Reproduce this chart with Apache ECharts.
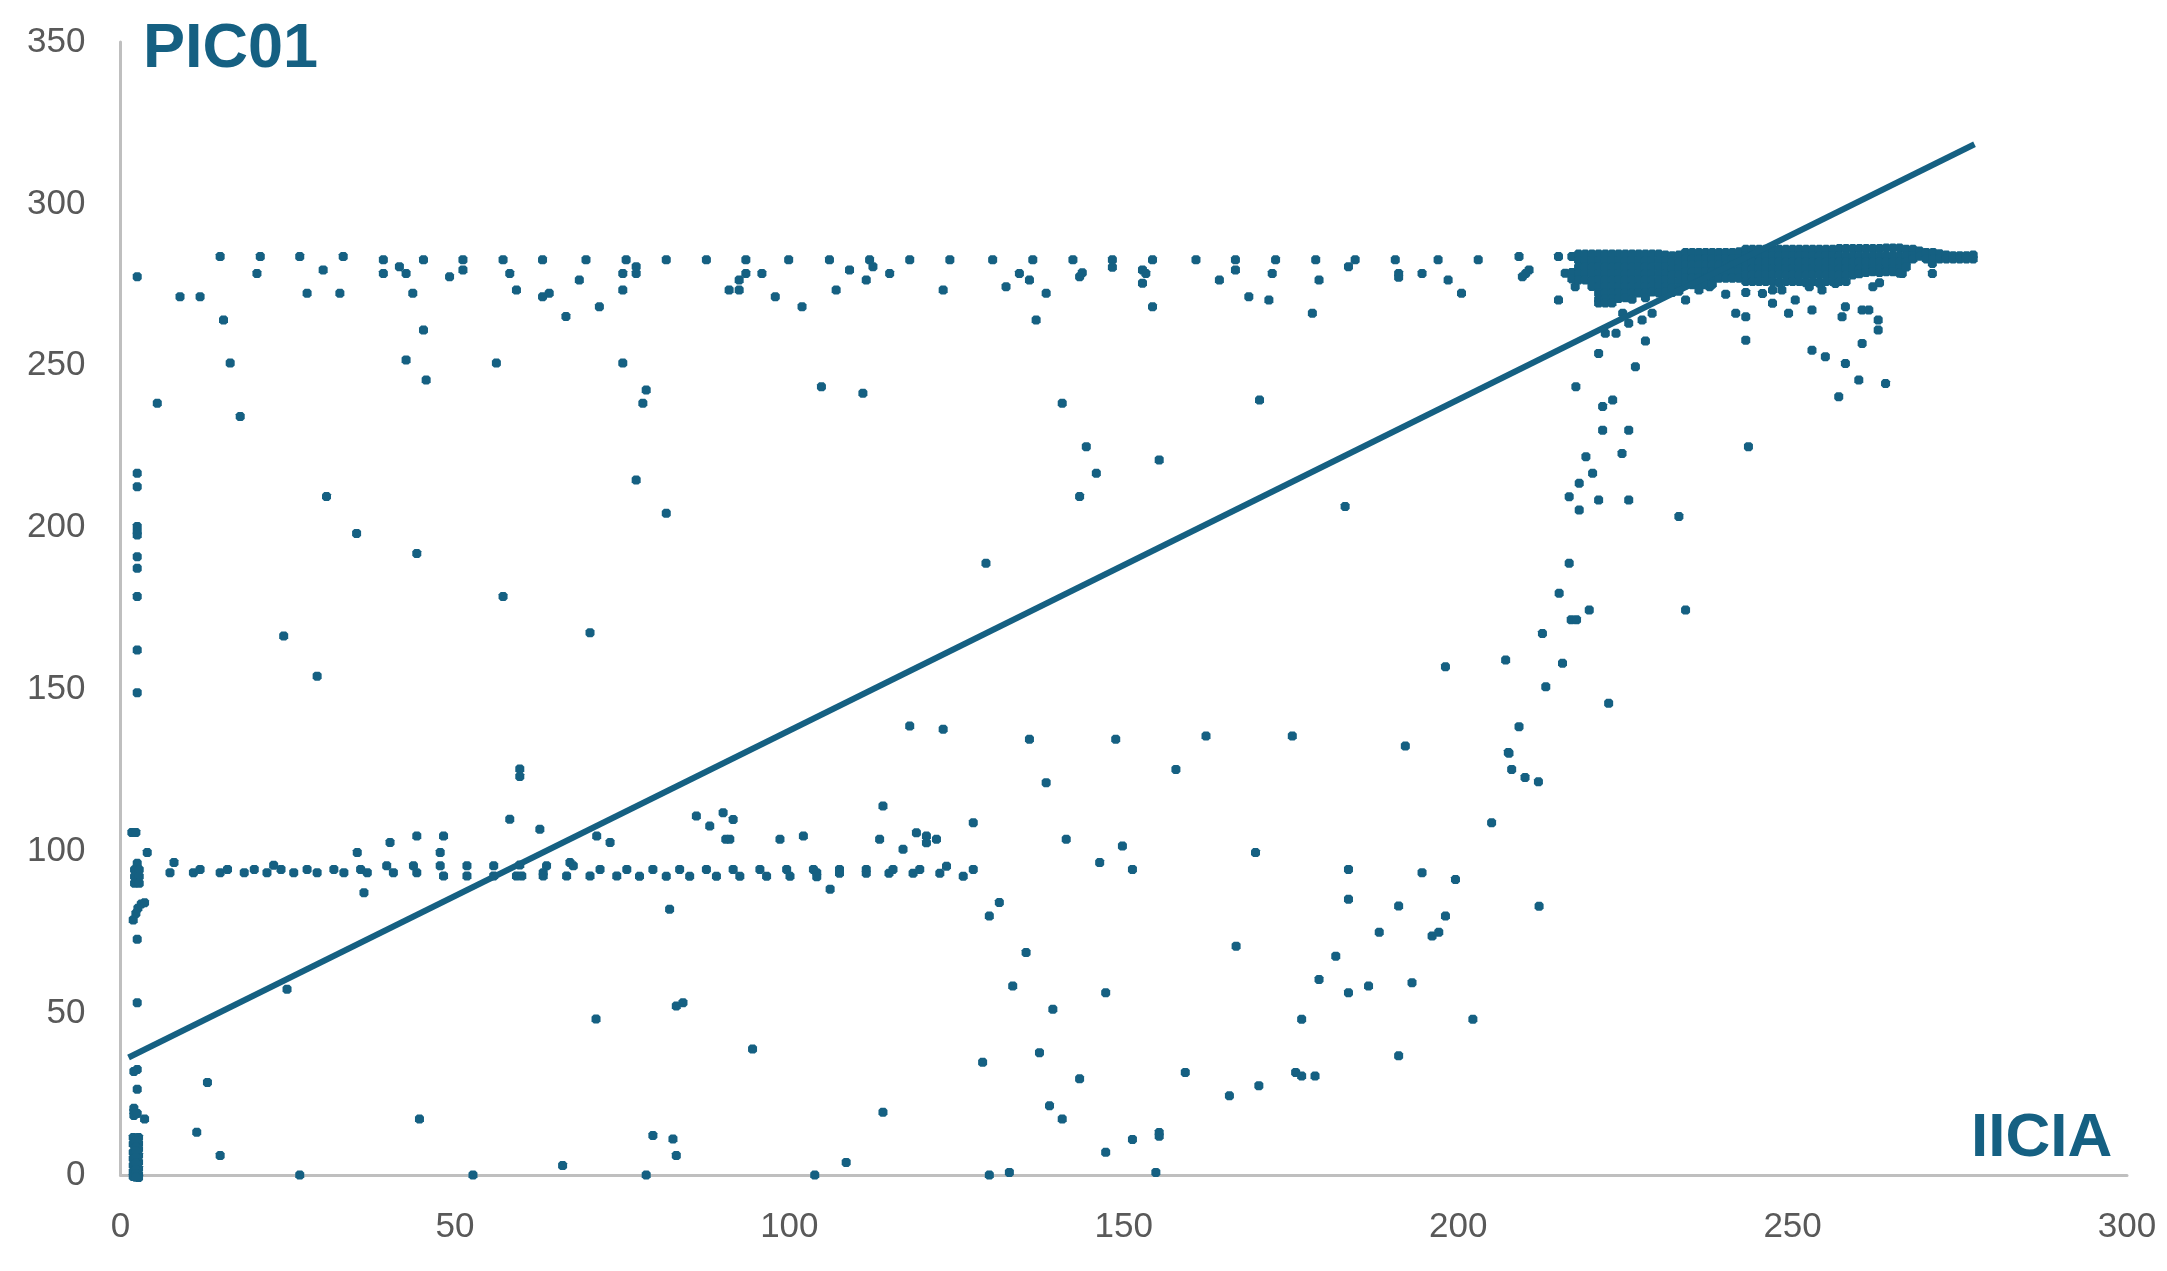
<!DOCTYPE html>
<html>
<head>
<meta charset="utf-8">
<style>html,body{margin:0;padding:0;background:#fff}#c{width:2167px;height:1271px}</style>
<script src="https://cdn.jsdelivr.net/npm/echarts@6/dist/echarts.min.js"></script>
</head>
<body>
<div id="c"></div>
<script>
const xTitle = "IICIA";
const yTitle = "PIC01";
const trendX = [1.2, 277.2];
const trendY = [36.3, 318.4];

const topBand = [[2.5,277.5],[8.9,271.3],[11.9,271.3],[14.9,283.7],[15.4,264.1],[16.4,250.8],[5.5,238.4],[17.9,234.3],[20.9,283.7],[20.4,278.5],[26.8,283.7],[27.9,272.4],[30.3,279.6],[33.3,283.7],[32.8,272.4],[39.3,282.7],[39.3,278.5],[41.7,280.6],[42.7,278.5],[43.7,272.4],[45.3,282.7],[45.3,261],[42.7,251.8],[45.7,245.6],[49.2,277.5],[51.2,282.7],[51.2,279.6],[57.2,282.7],[58.2,278.5],[59.2,273.4],[56.2,250.8],[63.1,282.7],[63.1,271.3],[64.1,272.4],[66.6,265.2],[68.6,276.5],[69.6,282.7],[71.6,268.2],[75.1,278.5],[75.1,273.4],[75.6,282.7],[77.1,280.6],[77.1,278.5],[75.1,250.8],[78.6,242.5],[78.1,238.4],[81.6,282.7],[77.1,214.7],[81.6,204.4],[87.6,282.7],[93.5,282.7],[93.5,278.5],[92.5,276.5],[91,273.4],[92.5,273.4],[95.9,278.5],[97.9,271.3],[99.9,282.7],[101.9,268.2],[104.8,243.5],[30.8,209.6],[35.3,198.2],[44.3,192],[57.2,178.7],[24.4,166.5],[29.4,154.1],[70.2,167.5]];
const topBandRight = [[106,282.7],[107,273.4],[109,279.6],[111.5,276.5],[112,282.7],[112.5,280.6],[115,278.5],[118,282.7],[123,273.4],[124,282.7],[130.4,282.7],[132.4,274.4],[134.4,278.5],[135.9,276.5],[136.4,282.7],[136.9,264.1],[138.4,272.4],[142.4,282.7],[143.4,277.5],[143.8,278.7],[148.3,282.7],[148.3,280.4],[152.8,279.6],[153.3,278.5],[152.8,275.5],[154.3,282.7],[154.3,268.2],[160.8,282.7],[164.3,276.5],[166.7,282.7],[166.7,279.6],[168.7,271.3],[171.7,270.3],[172.2,278.5],[172.7,282.7],[178.2,266.2],[178.7,282.7],[179.2,276.5],[183.6,280.6],[184.6,282.7],[190.6,282.7],[191.1,278.5],[191.1,277.3],[194.6,278.5],[197,282.7],[198.5,276.5],[200.5,272.4],[203,282.7],[209.1,283.7],[209.6,277.5],[210.6,279.6],[210.1,278.5],[215,283.7],[217,283.7],[215,270.3],[217.5,274.4],[111,241.5],[140.8,238.4],[170.3,239.4],[144.4,225],[145.9,216.8],[155.3,220.9],[143.4,209.6],[183.1,206.5],[129.4,189]];
const leftColumn = [[2.5,216.8],[2.5,212.6],[2.5,200.3],[2.5,198.7],[2.5,197.7],[2.5,191],[2.5,187.4],[2.5,178.7],[2.5,162.2],[2.5,149],[1.7,105.8],[2.3,105.8],[4,99.6],[2.5,96.3],[2.1,94.3],[2.8,94.3],[2.1,92.2],[2.8,92.2],[2.1,90.1],[2.8,90.1],[1.9,78.8],[2.3,80.8],[2.6,82.4],[3.1,83.7],[3.6,84.1],[2.5,72.8],[2.5,53.2],[2,32],[2.5,32.6],[2.5,26.5],[2,20.6],[2,19.6],[2,18.4],[2.5,19],[3.6,17.3],[1.9,11.6],[2.7,11.6],[1.9,9.6],[2.7,9.8],[2.7,8],[1.9,7],[2.7,6],[1.9,5],[2.7,4],[1.9,3],[2.7,2],[1.9,1],[2.7,0.2],[1.9,-0.5],[2.7,-0.8],[2.3,10.6],[2.3,8.6],[2.3,7.4],[2.3,5.4],[2.3,3.6],[2.3,1.6],[2.3,0.4],[2.3,-0.7]];
const midBand = [[8,96.5],[7.4,93.4],[10.9,93.4],[11.9,94.4],[14.9,93.4],[16,94.4],[18.5,93.4],[20,94.4],[21.9,93.4],[22.9,95.7],[24,94.4],[25.9,93.4],[27.9,94.4],[29.4,93.4],[31.9,94.4],[33.4,93.4],[35.4,99.6],[35.9,94.4],[36.9,93.4],[36.4,87.2],[39.8,95.5],[40.8,93.4],[40.3,102.7],[43.8,95.5],[44.3,93.4],[44.3,104.7],[47.8,99.6],[47.8,95.5],[48.3,92.4],[48.3,104.7],[51.8,95.5],[51.8,92.4],[55.8,95.5],[55.8,92.4],[59.7,125.4],[59.7,123.1],[58.2,109.9],[62.7,106.8],[59.7,95.8],[59.2,92.4],[60,92.4],[63.7,95.5],[63.2,92.4],[63.2,93.4],[66.7,92.4],[67.2,96.5],[67.7,95.5],[70.2,92.4],[71.7,94.4],[71.2,104.7],[73.2,102.7],[74.2,92.4],[75.7,94.4],[77.6,92.3],[79.6,94.4],[81.6,92.3],[82.1,82.1],[83.6,94.4],[85.1,92.3],[86.1,110.9],[87.6,94.4],[88.1,107.8],[89.1,92.3],[90.1,111.9],[91.6,109.8],[90.5,103.7],[91.1,103.7],[91.6,94.4],[92.6,92.3],[95.6,94.4],[96.6,92.3],[98.6,103.7],[99.6,94.4],[100.1,92.3],[102.1,104.7],[103.6,94.4],[104.1,93.4],[104.1,92.1],[106.1,88.3],[107.5,94.4],[107.5,93.2],[111.5,94.4],[111.5,93.2],[113.5,103.7],[114,114],[114.9,93.2],[115.5,94.4],[117,100.6],[118.5,93.2],[119,105.7],[119.5,94.4],[120.5,104.7],[120.5,102.6],[122,103.7],[122.5,93.2],[123.5,95.4],[126,92.3],[127.5,94.4],[127.5,108.8]];
const lowerPoints = [[24.9,57.4],[83.1,52.2],[84.1,53.2],[71.1,48.2],[94.5,38.9],[13,28.6],[44.7,17.3],[11.4,13.2],[79.6,12.2],[82.6,11.1],[14.9,6],[83.1,6],[66.1,2.9],[26.8,0],[52.7,0],[78.6,0],[103.8,0],[118,138.7],[123,137.7],[135.9,134.6],[148.8,134.6],[162.3,135.6],[175.2,135.6],[192.1,132.5],[207.5,130.5],[208,125.3],[209.1,138.5],[138.4,121.2],[157.8,125.3],[141.4,103.7],[149.8,101.6],[146.4,96.5],[151.3,94.4],[169.7,99.6],[205,108.8],[183.6,94.4],[194.6,93.4],[199.6,91.3],[183.6,85.2],[191.1,83.1],[198.1,80],[131.4,84.2],[129.9,80],[188.2,75],[196.1,73.8],[197.1,75],[166.8,70.7],[135.4,68.7],[181.7,67.6],[179.2,60.4],[133.4,58.4],[186.6,58.4],[193.1,59.4],[183.6,56.3],[147.3,56.3],[139.4,51.2],[176.6,48.1],[202.2,48.1],[191.1,36.8],[137.4,37.8],[128.9,34.8],[143.4,29.7],[159.2,31.7],[175.7,31.7],[176.6,30.6],[178.6,30.6],[170.2,27.6],[165.8,24.5],[138.9,21.4],[114,19.4],[140.8,17.3],[155.3,13.1],[155.3,12],[151.3,11],[147.3,7],[108.5,3.9],[132.9,0.8],[154.8,0.8],[129.9,0],[212,121.5],[210,122.8],[212.1,83]];
const rightArc = [[221,253.8],[228,257.6],[226.5,249.7],[217.6,243.5],[223.1,239.4],[221.6,237.4],[221.6,230.1],[225.5,230.1],[219.1,221.9],[224.5,222.9],[220.1,216.8],[218.1,213.7],[216.6,209.5],[221,208.5],[225.5,208.5],[218.1,205.4],[233,203.4],[243.4,225],[216.6,189],[215.1,179.7],[219.6,174.5],[234,174.5],[216.9,171.5],[217.7,171.5],[212.6,167.3],[198.1,157],[207.1,159.1],[215.6,158.1],[213.1,150.8],[222.5,145.7],[207.6,130.3]];
const clusterFringe = [[234,270.3],[241.5,266.2],[243,265.1],[243,257.9],[240,272.1],[243,272.6],[247,269.3],[249.4,266.2],[250.4,270.3],[252.9,267.2],[257.9,268.2],[257.4,265.1],[260.4,267.2],[261.4,267.2],[262.8,264.1],[262.8,261],[260.4,256.9],[252.9,254.8],[254.9,252.8],[257.9,250.7],[259.9,245.6],[263.9,244.5],[256.9,240.4],[227.5,264.1],[225.5,263.1],[229,266.2],[222,260],[223.6,260],[224.6,266.2],[248.4,273.4],[247,273.4],[245.5,272.3],[254.4,273.4],[252.5,274.4],[256.4,275.4],[262,274.4],[263,275.6],[266.4,278.5],[270.9,278.5],[270.9,281.6],[236,273.4],[237.6,274.4]];

const clusterColumnX = [216,217,218,219,220,221,222,223,224,225,226,227,228,229,230,231,232,233,234,235,236,237,238,239,240,241,242,243,244,245,246,247,248,249,250,251,252,253,254,255,256,257,258,259,260,261,262,263,264,265,266,267,268,269,270,271,272,273,274,275,276,277];
const clusterColumnY = [
[278.6],[278.8,276.8],[284.5,282.5,280.5,278.5,276.5],[284.5,282.5,280.5,278.5,276.5],[284.5,282.5,280.5,278.5,276.2,274.5],
[284.5,282.5,280.5,278.5,276.5,274.5,272.5,270.5,269.4],[284.5,282.5,280.5,278.5,276.5,274.5,272.5,270.5,269.4],[284.5,282.5,280.5,278.5,276.5,274.5,272.5,270.5,269.4],[284.5,282.5,280.5,278.5,276.5,274.5,272.5,270.8],[284.5,282.5,280.5,278.5,276.5,274.5,272.5,271],
[284.5,282.5,280.5,278.5,276.5,274.5,272.5,270.5],[284.5,282.5,280.5,278.5,276.5,274.5,272.5],[284.5,282.5,280.5,278.5,276.5,274.5,272.5,271],[284.5,282.5,280.5,278.5,276.5,274.5,272.8],[284.5,282.5,280.5,278.5,276.5,274.5,272.5],
[284.2,282.5,280.5,278.5,276.5,274.5,272.7],[284,282,280,278,276,274,272.6],[284.2,282,280,278,276,274,273],[285,283,281,279,277,275],[285,283,281,279,277,275],
[285,283,281,279,277,275],[285,283,281,279,277,275],[285,283,281,279,277,275.2],[285,283,281,279,277],[285,283,281,279,277],
[285,283,281,279,277],[285.2,283,281,279,277],[286,284,282,280,278,276],[286,284,282,280,278,276],[286,284,282,280,278,276],
[286,284,282,280,278,276],[286,284,282,280,278,276],[286,284,282,280,278,275.6],[286,284,282,280,278,276],[286,284,282,280,278,276],
[286,284,282,280,278,276],[286,284,282,280,278,275.6],[286,284,282,280,278,276],[286,284,282,280,278,275.5],[286,284,282,280,278,276],
[286,284,282,280,278,276],[286.2,284,282,280,278,276],[286.2,284,282,280,278,276],[286.2,284,282,280,278],[286.2,284,282,280,278.4],[286.2,284,282,280,278.8],
[286.2,284,282,280,279],[286.2,284,282,280,278.8],[286.4,284,282,280,279],[286.4,284,282,280,279],[286.4,284,282,280,278.6],[286,284,282,280.5],
[286,284,283],[285.4,283.8],[285,283],[285,283],[284.6,283],[284.2,283],[284,283],[284,283],[284,283],[284.2,283]
];

const clusterPoints = [];
clusterColumnX.forEach(function (x, i) {
  clusterColumnY[i].forEach(function (y) { clusterPoints.push([x, y]); });
});
const allPoints = [].concat(topBand, topBandRight, leftColumn, midBand, lowerPoints, rightArc, clusterFringe, clusterPoints);
const trendLine = trendX.map(function (x, i) { return [x, trendY[i]]; });

const INK = "#156082";
const TICK = "#595959";
const AXIS = "#BFBFBF";
const MARKER = "path://M-2.3,-4.5 L2.3,-4.5 L4.5,-2.3 L4.5,2.3 L2.3,4.5 L-2.3,4.5 L-4.5,2.3 L-4.5,-2.3 Z";

const chart = echarts.init(document.getElementById("c"), null, { renderer: "canvas" });
const axisCommon = {
  type: "value",
  min: 0,
  interval: 50,
  splitLine: { show: false },
  axisTick: { show: false },
  axisLine: { show: true, onZero: false, lineStyle: { color: AXIS, width: 3 } },
  axisLabel: {
    color: TICK,
    fontFamily: "'Liberation Sans', Arial, sans-serif",
    fontSize: 35,
    showMinLabel: true,
    showMaxLabel: true,
    hideOverlap: false
  }
};
chart.setOption({
  animation: false,
  backgroundColor: "#ffffff",
  grid: { left: 120.5, top: 42, width: 2006.5, height: 1133, containLabel: false },
  xAxis: Object.assign({}, axisCommon, { max: 300, axisLabel: Object.assign({}, axisCommon.axisLabel, { margin: 35 }) }),
  yAxis: Object.assign({}, axisCommon, { max: 350, axisLabel: Object.assign({}, axisCommon.axisLabel, { margin: 35 }) }),
  title: [
    { text: yTitle, left: 138, top: 13, textStyle: { color: INK, fontFamily: "'Liberation Sans', Arial, sans-serif", fontSize: 63, fontWeight: "bold" } },
    { text: xTitle, left: 1966, top: 1103, textStyle: { color: INK, fontFamily: "'Liberation Sans', Arial, sans-serif", fontSize: 62, fontWeight: "bold" } }
  ],
  series: [
    { name: "points", type: "scatter", data: allPoints, symbol: MARKER, symbolSize: 9, clip: false, silent: true, itemStyle: { color: INK, opacity: 1 }, z: 3 },
    { name: "trend", type: "line", data: trendLine, showSymbol: false, symbol: "none", clip: false, silent: true, lineStyle: { color: INK, width: 6 }, z: 4 }
  ]
});
</script>
</body>
</html>
